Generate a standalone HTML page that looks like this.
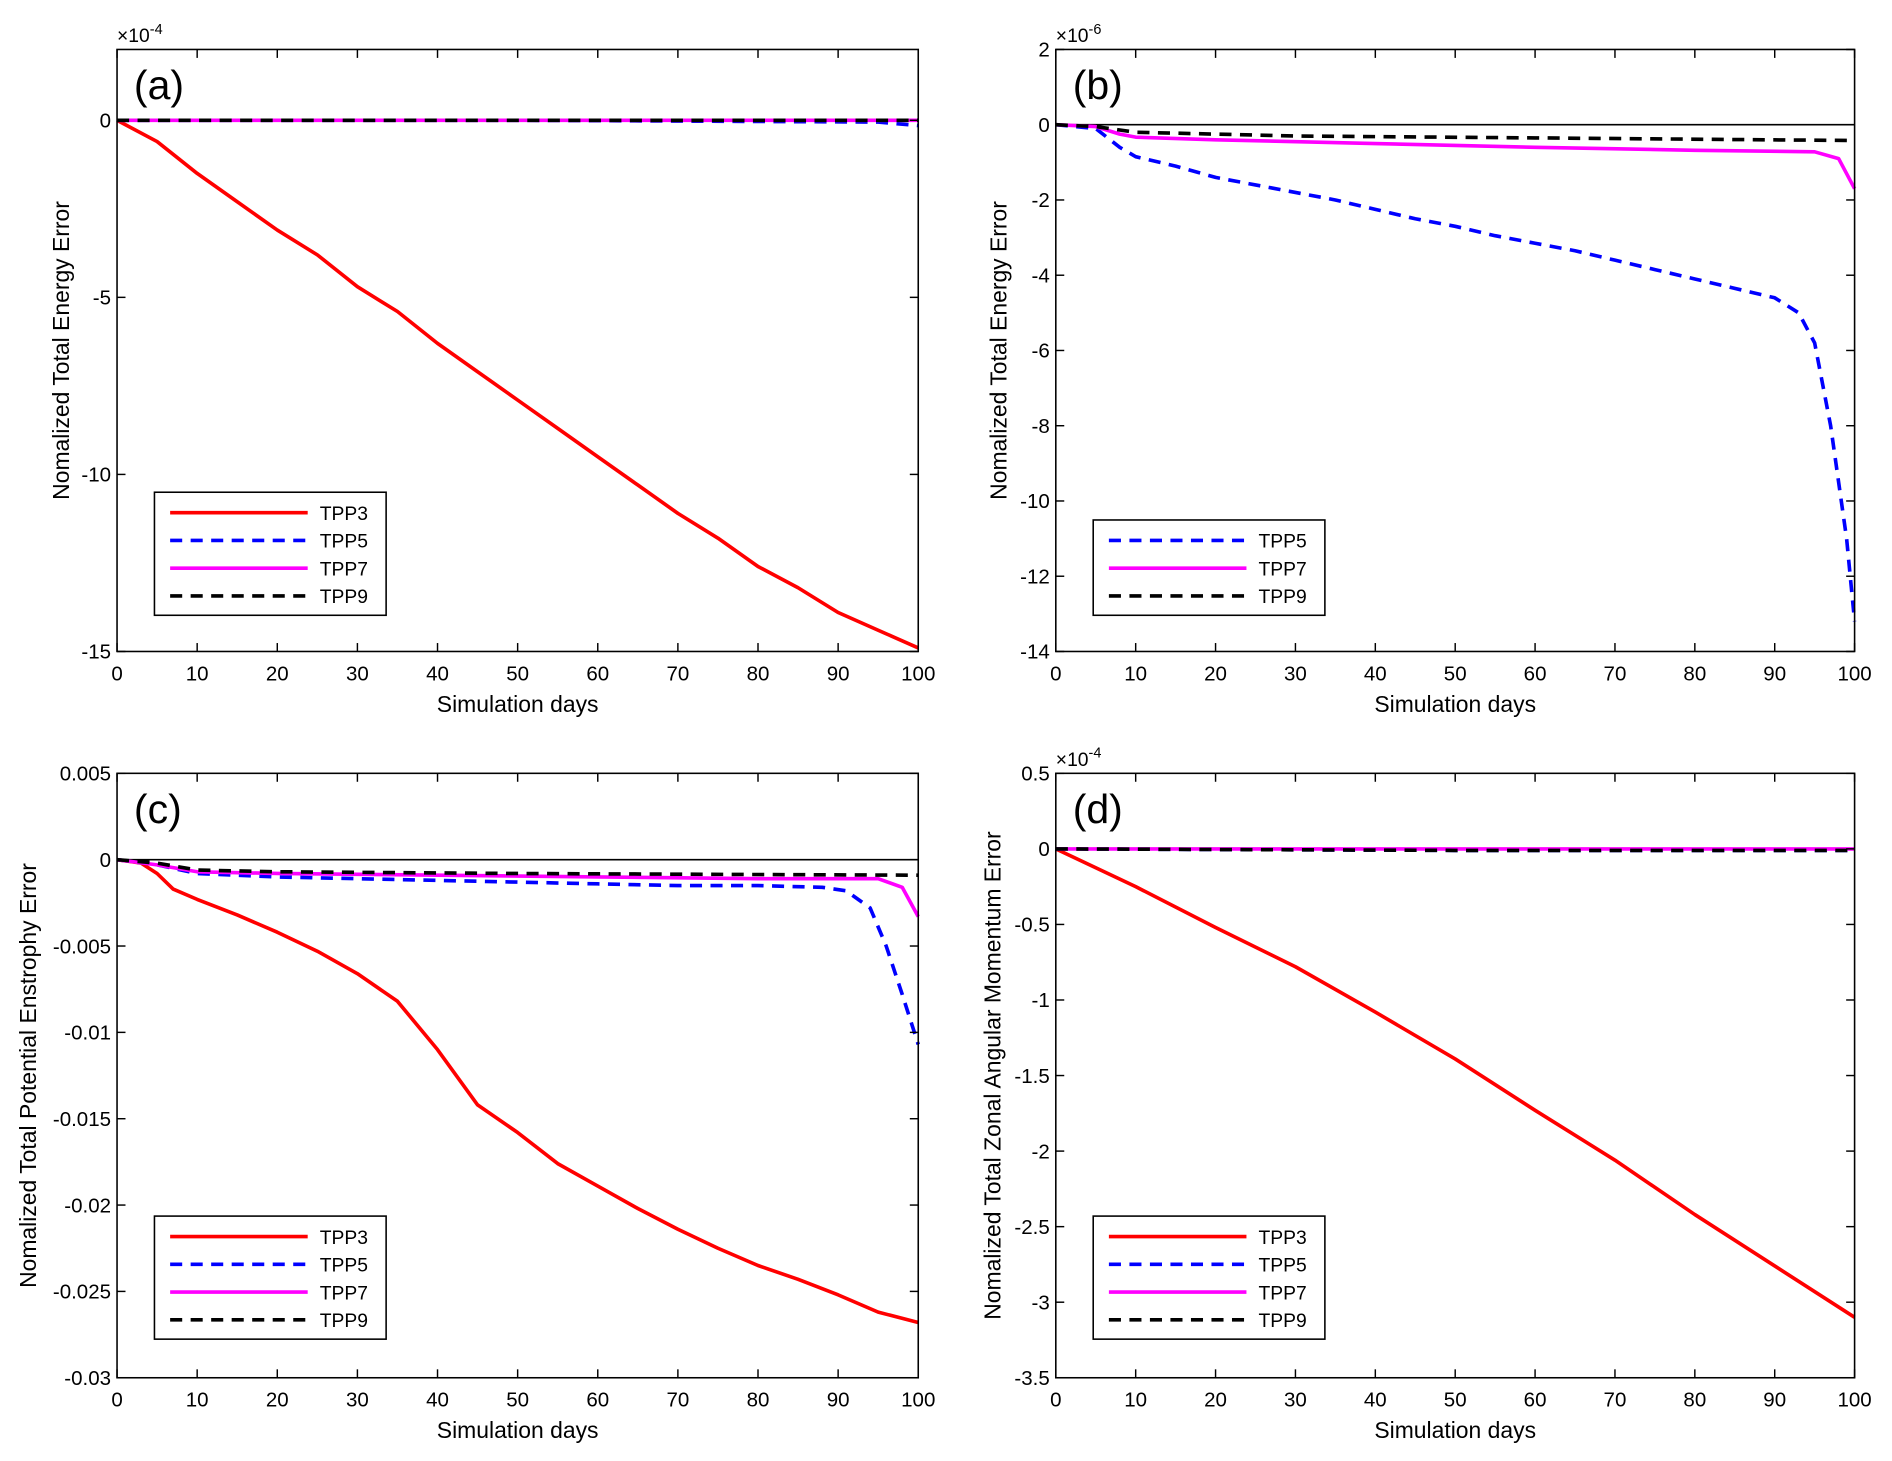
<!DOCTYPE html>
<html><head><meta charset="utf-8"><style>
html,body{margin:0;padding:0;background:#fff}
svg{display:block}
text{font-family:"Liberation Sans",Arial,sans-serif;fill:#000}
</style></head><body>
<svg id="fig" width="1892" height="1461" viewBox="0 0 1568 1211" preserveAspectRatio="none" xmlns="http://www.w3.org/2000/svg"></svg>
<script>
// ---- data (days, values) ----
const aDays3 = [0,5,10,15,20,25,30,35,40,45,50,55,60,65,70,75,80,85,90,95,100];
const aTPP3 = [0,-0.6,-1.5,-2.3,-3.1,-3.8,-4.7,-5.4,-6.3,-7.1,-7.9,-8.7,-9.5,-10.3,-11.1,-11.8,-12.6,-13.2,-13.9,-14.4,-14.9];
const aDaysO = [0,50,95,100];
const aTPP5 = [0,0,-0.05,-0.15];
const aTPP7 = [0,0,0,0];
const aTPP9 = [0,0,0,0];

const bDays5 = [0,5,8,10,15,20,25,30,35,40,45,50,55,60,65,70,75,80,85,90,93,95,97,99,100];
const bTPP5 = [0,-0.1,-0.6,-0.85,-1.1,-1.4,-1.6,-1.8,-2.0,-2.25,-2.5,-2.7,-2.95,-3.15,-3.35,-3.6,-3.85,-4.1,-4.35,-4.6,-5.0,-5.8,-8,-11,-13.2];
const bDays7 = [0,5,8,10,20,40,60,80,95,98,100];
const bTPP7 = [0,-0.05,-0.25,-0.33,-0.4,-0.5,-0.6,-0.68,-0.72,-0.9,-1.7];
const bDays9 = [0,5,10,30,60,100];
const bTPP9 = [0,-0.05,-0.2,-0.3,-0.35,-0.42];

const cDays3 = [0,3,5,7,10,15,20,25,30,35,40,45,50,55,60,65,70,75,80,85,90,95,100];
const cTPP3 = [0,-0.0002,-0.0008,-0.0017,-0.0023,-0.0032,-0.0042,-0.0053,-0.0066,-0.0082,-0.011,-0.0142,-0.0158,-0.0176,-0.0189,-0.0202,-0.0214,-0.0225,-0.0235,-0.0243,-0.0252,-0.0262,-0.0268];
const cDays5 = [0,5,10,20,30,40,50,60,70,80,88,91,94,96,98,100];
const cTPP5 = [0,-0.0003,-0.0008,-0.001,-0.0011,-0.0012,-0.0013,-0.0014,-0.0015,-0.0015,-0.0016,-0.0018,-0.0028,-0.005,-0.0078,-0.0107];
const cDays7 = [0,5,10,20,40,60,80,95,98,100];
const cTPP7 = [0,-0.0003,-0.0007,-0.0008,-0.0009,-0.001,-0.0011,-0.0011,-0.0016,-0.0033];
const cDays9 = [0,5,10,20,50,100];
const cTPP9 = [0,-0.0002,-0.0006,-0.0007,-0.0008,-0.0009];

const dDays3 = [0,10,20,30,40,50,60,70,80,90,100];
const dTPP3 = [0,-0.25,-0.52,-0.78,-1.08,-1.39,-1.73,-2.06,-2.42,-2.76,-3.1];
const dDaysO = [0,50,100];
const dTPP5 = [0,-0.01,-0.01];
const dTPP7 = [0,0,0];
const dTPP9 = [0,-0.01,-0.01];

const xTicks = [0,10,20,30,40,50,60,70,80,90,100];
const aYTicks = [0,-5,-10,-15], aYLabels = ['0','-5','-10','-15'];
const bYTicks = [2,0,-2,-4,-6,-8,-10,-12,-14], bYLabels = ['2','0','-2','-4','-6','-8','-10','-12','-14'];
const cYTicks = [0.005,0,-0.005,-0.01,-0.015,-0.02,-0.025,-0.03], cYLabels = ['0.005','0','-0.005','-0.01','-0.015','-0.02','-0.025','-0.03'];
const dYTicks = [0.5,0,-0.5,-1,-1.5,-2,-2.5,-3,-3.5], dYLabels = ['0.5','0','-0.5','-1','-1.5','-2','-2.5','-3','-3.5'];

const NS = 'http://www.w3.org/2000/svg';
const svg = document.getElementById('fig');
function mk(tag, attrs, parent){ const e=document.createElementNS(NS,tag); for(const k in attrs) e.setAttribute(k,attrs[k]); (parent||svg).appendChild(e); return e; }

const styles = {
  TPP3:{color:'#ff0000',dash:''},
  TPP5:{color:'#0000ff',dash:'10 7'},
  TPP7:{color:'#ff00ff',dash:''},
  TPP9:{color:'#000000',dash:'10 7'}
};

function panel(p){
  const g = mk('g',{});
  
  
  const L=p.x0, R=p.x1, T=p.y0, B=p.y1;
  const sx = d => L + (d-0)/(100)*(R-L);
  const sy = v => T + (p.ymax - v)/(p.ymax - p.ymin)*(B-T);
  // zero line
  const z = mk('line',{x1:L,x2:R,y1:sy(0),y2:sy(0),stroke:'#000','stroke-width':1.3},g);
  
  
  // series
  p.series.forEach(s=>{
    const st = styles[s.name];
    const pts = s.x.map((d,i)=>sx(d).toFixed(2)+','+sy(s.y[i]).toFixed(2)).join(' ');
    const pl = mk('polyline',{points:pts,fill:'none',stroke:st.color,'stroke-width':3,'stroke-linejoin':'round'},g);
    if(st.dash) pl.setAttribute('stroke-dasharray',st.dash);
    
    
  });
  // box
  const box = mk('rect',{x:L,y:T,width:R-L,height:B-T,fill:'none',stroke:'#000','stroke-width':1.3},g);
  
  
  // x ticks
  xTicks.forEach(t=>{
    const x=sx(t);
    mk('line',{x1:x,x2:x,y1:B,y2:B-7,stroke:'#000','stroke-width':1.2},g);
    mk('line',{x1:x,x2:x,y1:T,y2:T+7,stroke:'#000','stroke-width':1.2},g);
    const tx = mk('text',{x:x,y:B+24,'font-size':17,'text-anchor':'middle'},g);
    tx.textContent=t;
    
    
  });
  p.yticks.forEach((t,i)=>{
    const y=sy(t);
    mk('line',{x1:L,x2:L+7,y1:y,y2:y,stroke:'#000','stroke-width':1.2},g);
    mk('line',{x1:R,x2:R-7,y1:y,y2:y,stroke:'#000','stroke-width':1.2},g);
    const tx = mk('text',{x:L-5,y:y+6,'font-size':17,'text-anchor':'end'},g);
    tx.textContent=p.ylabels[i];
    
    
  });
  const xl = mk('text',{x:(L+R)/2,y:B+50,'font-size':19,'text-anchor':'middle'},g);
  xl.textContent='Simulation days';
  
  
  const yl = mk('text',{x:0,y:0,'font-size':19,'text-anchor':'middle',transform:`translate(${p.ylx},${(T+B)/2}) rotate(-90)`},g);
  yl.textContent=p.ytitle;
  
  
  if(p.exp){
    const ex = mk('text',{x:L,y:T-6,'font-size':16},g);
    ex.innerHTML = '×10<tspan dy="-7" font-size="12">'+p.exp+'</tspan>';
    
    
  }
  const pl = mk('text',{x:L+14,y:T+41,'font-size':34},g);
  pl.textContent='('+p.id+')';
  
  
  // legend
  const n = p.series.length;
  const lx=L+31, ly=p.legTop, lw=192, lh=23*n+10;
  const lg = mk('g',{},g);
  
  
  mk('rect',{x:lx,y:ly,width:lw,height:lh,fill:'#fff',stroke:'#000','stroke-width':1.3},lg);
  p.series.forEach((s,i)=>{
    const st=styles[s.name]; const yy=ly+17+23*i;
    const e = mk('g',{},lg);
    
    
    const ln = mk('line',{x1:lx+13,x2:lx+127,y1:yy,y2:yy,stroke:st.color,'stroke-width':3},e);
    if(st.dash) ln.setAttribute('stroke-dasharray',st.dash);
    const t = mk('text',{x:lx+137,y:yy+6,'font-size':16},e);
    t.textContent=s.name;
  });
}

panel({id:'a',x0:97,x1:761,y0:41,y1:540,ymin:-15,ymax:2,yticks:aYTicks,ylabels:aYLabels,exp:'-4',
  ytitle:'Nomalized Total Energy Error',ylx:57,legTop:408,
  series:[{name:'TPP3',x:aDays3,y:aTPP3},{name:'TPP5',x:aDaysO,y:aTPP5},{name:'TPP7',x:aDaysO,y:aTPP7},{name:'TPP9',x:aDaysO,y:aTPP9}]});
panel({id:'b',x0:875,x1:1537,y0:41,y1:540,ymin:-14,ymax:2,yticks:bYTicks,ylabels:bYLabels,exp:'-6',
  ytitle:'Nomalized Total Energy Error',ylx:834,legTop:431,
  series:[{name:'TPP5',x:bDays5,y:bTPP5},{name:'TPP7',x:bDays7,y:bTPP7},{name:'TPP9',x:bDays9,y:bTPP9}]});
panel({id:'c',x0:97,x1:761,y0:641,y1:1142,ymin:-0.03,ymax:0.005,yticks:cYTicks,ylabels:cYLabels,exp:'',
  ytitle:'Nomalized Total Potential Enstrophy Error',ylx:30,legTop:1008,
  series:[{name:'TPP3',x:cDays3,y:cTPP3},{name:'TPP5',x:cDays5,y:cTPP5},{name:'TPP7',x:cDays7,y:cTPP7},{name:'TPP9',x:cDays9,y:cTPP9}]});
panel({id:'d',x0:875,x1:1537,y0:641,y1:1142,ymin:-3.5,ymax:0.5,yticks:dYTicks,ylabels:dYLabels,exp:'-4',
  ytitle:'Nomalized Total Zonal Angular Momentum Error',ylx:829,legTop:1008,
  series:[{name:'TPP3',x:dDays3,y:dTPP3},{name:'TPP5',x:dDaysO,y:dTPP5},{name:'TPP7',x:dDaysO,y:dTPP7},{name:'TPP9',x:dDaysO,y:dTPP9}]});
</script>
</body></html>
